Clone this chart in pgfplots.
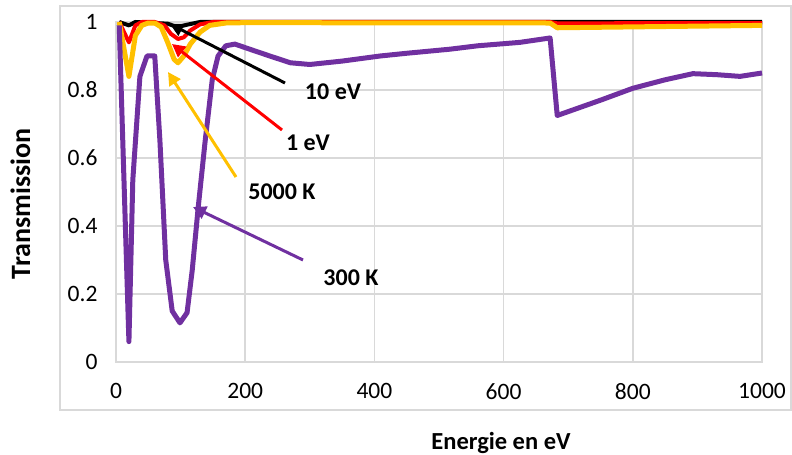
\documentclass[border=0pt]{standalone}
\usepackage{pgfplots}
\pgfplotsset{compat=1.18}
\usetikzlibrary{arrows.meta}
\usepackage{fontspec}
\setmainfont{Carlito}
\definecolor{cpurple}{HTML}{7030A0}
\definecolor{cyellow}{HTML}{FFC000}
\definecolor{cred}{HTML}{FF0000}
\definecolor{cgrid}{HTML}{D9D9D9}
\begin{document}
\begin{tikzpicture}[x=1bp,y=1bp]
\useasboundingbox (0,0) rectangle (792,455);
\draw[cgrid, line width=1.5bp] (60,449) rectangle (791,45);
\begin{axis}[
  at={(116bp,93bp)}, anchor=south west, scale only axis,
  width=646bp, height=340bp,
  xmin=0, xmax=1000, ymin=0, ymax=1,
  xtick={0,200,400,600,800,1000}, xticklabels={0,200,400,600,800,1000},
  ytick={0,0.2,0.4,0.6,0.8,1},
  yticklabels={0,0.2,0.4,0.6,0.8,1},
  grid=major, major grid style={cgrid, line width=1.5bp},
  axis line style={cgrid, line width=1.5bp},
  major tick length=0pt,
  clip=false,
  /pgf/number format/assume math mode=true,
  ticklabel style={font=\fontsize{23.5bp}{26bp}\selectfont, text=black},
  yticklabel style={xshift=-15bp},
  xticklabel style={yshift=-18bp},
  every axis plot/.append style={line join=round},
]
\addplot[black, line width=4bp] coordinates {
(5,1.0) (20,0.99) (30,1.0) (80,0.995) (95,0.985) (110,0.992) (130,1.0) (1000,1.0)};
\addplot[cred, line width=4bp] coordinates {
(5,1.0) (20,0.94) (30,0.99) (40,1.0) (60,1.0) (75,0.99) (85,0.965) (96,0.95) (105,0.955) (115,0.975) (130,0.993) (150,1.0) (672,1.0) (683,0.996) (1000,0.997)};
\addplot[cyellow, line width=5bp] coordinates {
(5,1.0) (20,0.84) (30,0.96) (40,0.99) (50,0.997) (60,0.997) (70,0.985) (80,0.94) (90,0.89) (96,0.88) (105,0.9) (115,0.935) (130,0.97) (145,0.99) (170,0.997) (200,0.998) (672,0.997) (683,0.983) (1000,0.99)};
\addplot[cpurple, line width=5bp] coordinates {
(5,0.99) (20,0.06) (26,0.535) (37,0.84) (48,0.9) (60,0.9) (68,0.65) (77,0.3) (87,0.15) (99,0.115) (110,0.145) (118,0.27) (127,0.45) (138,0.65) (149,0.83) (158,0.9) (170,0.93) (184,0.935) (207,0.92) (238,0.9) (270,0.88) (300,0.875) (350,0.885) (409,0.9) (450,0.908) (517,0.92) (560,0.93) (625,0.94) (672,0.953) (683,0.725) (750,0.77) (800,0.805) (850,0.83) (893,0.848) (930,0.845) (966,0.84) (1000,0.85)};
\end{axis}
\draw[black, line width=3bp, -{Triangle[length=13bp,width=13bp]}] (285,372) -- (170,431);
\draw[cred, line width=3bp, -{Triangle[length=13bp,width=13bp]}] (282,325) -- (172,411);
\draw[cyellow, line width=3bp, -{Triangle[length=13bp,width=13bp]}] (236,278) -- (168,383);
\draw[cpurple, line width=3bp, -{Triangle[length=13bp,width=13bp]}] (303,195) -- (193,248);
\begin{scope}[every node/.style={font=\bfseries\fontsize{24bp}{28bp}\selectfont, inner sep=0pt}]
\node at (333,363) {10 eV};
\node at (308,312) {1 eV};
\node at (282,263) {5000 K};
\node at (351,177) {300 K};
\node[anchor=base] at (501,5) {\fontsize{24.5bp}{28bp}\selectfont Energie en eV};
\node[anchor=base, rotate=90] at (30,251) {\fontsize{28bp}{32bp}\selectfont Transmission};
\end{scope}
\end{tikzpicture}
\end{document}
